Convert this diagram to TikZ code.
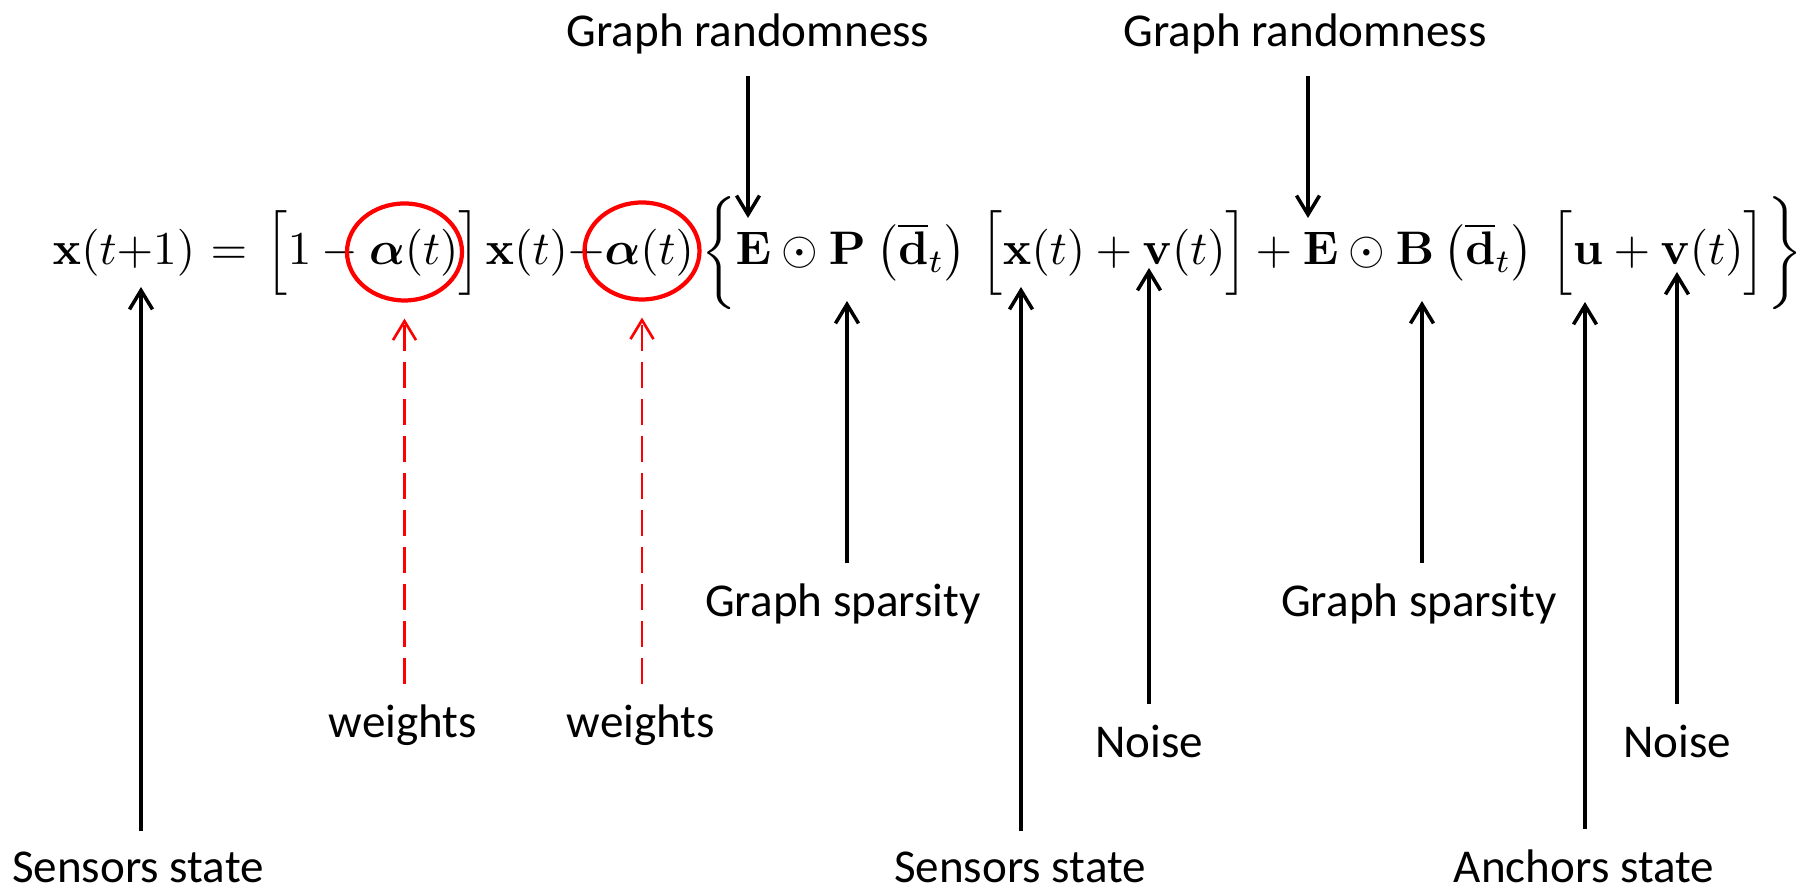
\documentclass[tikz,border=0pt]{standalone}
\usepackage{amsmath,amssymb,bm}
\usepackage{graphicx}
\usepackage[no-math]{fontspec}
\newfontfamily\calibri{Carlito}
\usepackage{tikz}
\usetikzlibrary{arrows.meta,positioning,shapes.geometric}

\newcommand{\lblfont}{\calibri\fontsize{13.4}{16}\selectfont}
\newcommand{\eqpart}[1]{\scalebox{1.34}{$#1$}}

\begin{document}
\begin{tikzpicture}[
        lbl/.style={font=\lblfont, inner sep=0pt, outer sep=6pt, anchor=base},
        eqp/.style={inner sep=0pt, anchor=base west},
        arr/.style={-{Straight Barb[length=1.9mm,width=2.3mm]}, line width=1pt},
        warr/.style={-{Straight Barb[length=1.9mm,width=2.3mm]}, red, line width=0.75pt, dash pattern=on 0.26cm off 0.11cm},
        ring/.style={ellipse, draw=red, line width=1.2pt, minimum width=1.15cm, minimum height=0.97cm, inner sep=0pt},
    ]
        \useasboundingbox (0,0) rectangle (18.06,8.90);

        % The equation, piece by piece on one baseline
        \node[eqp] (eqLhs) at (0.52,6.25) {\eqpart{\mathbf{x}(t{+}1)}};
        \node[eqp] (eqEq) at (2.10,6.25) {\eqpart{=}};
        \node[eqp] (eqWa) at (2.65,6.25) {\eqpart{\Bigl[1-\bm{\alpha}(t)\Bigr]}};
        \node[eqp] (eqMid) at (4.85,6.25) {\eqpart{\mathbf{x}(t){+}\bm{\alpha}(t)}};
        \node[eqp] (eqLb) at (7.01,6.25) {\eqpart{\biggl\{}};
        \node[eqp] (eqEP) at (7.35,6.25) {\eqpart{\mathbf{E}\odot\mathbf{P}}};
        \node[eqp] (eqPa) at (8.76,6.25) {\eqpart{\bigl(\overline{\mathbf{d}}_t\bigr)}};
        \node[eqp] (eqXv) at (9.80,6.25) {\eqpart{\Bigl[\mathbf{x}(t)+\mathbf{v}(t)\Bigr]}};
        \node[eqp] (eqEB) at (12.55,6.25) {\eqpart{+\mskip\medmuskip\mathbf{E}\odot\mathbf{B}}};
        \node[eqp] (eqBa) at (14.43,6.25) {\eqpart{\bigl(\overline{\mathbf{d}}_t\bigr)}};
        \node[eqp] (eqUv) at (15.50,6.25) {\eqpart{\Bigl[\mathbf{u}+\mathbf{v}(t)\Bigr]}};
        \node[eqp] (eqRb) at (17.67,6.25) {\eqpart{\biggr\}}};

        % Circled weights
        \node[ring] (ring1) at (4.045,6.38) {};
        \node[ring] (ring2) at (6.42,6.39) {};

        % Points in the equation that arrows reach
        \coordinate (grA) at (7.48,6.72);
        \coordinate (grB) at (13.08,6.72);
        \coordinate (ssA) at (1.41,6.03);
        \coordinate (ssB) at (10.21,6.03);
        \coordinate (anc) at (15.85,5.88);
        \coordinate (gsA) at (8.47,5.89);
        \coordinate (gsB) at (14.22,5.89);
        \coordinate (nzA) at (11.49,6.22);
        \coordinate (nzB) at (16.77,6.18);

        % Labels above
        \node[lbl] (randA) at (7.48,8.43) {Graph randomness};
        \node[lbl] (randB) at (13.05,8.43) {Graph randomness};

        % Labels below
        \node[lbl] (sparA) at (8.43,2.73) {Graph sparsity};
        \node[lbl] (sparB) at (14.19,2.73) {Graph sparsity};
        \node[lbl] (wtA) at (4.03,1.52) {weights};
        \node[lbl] (wtB) at (6.41,1.52) {weights};
        \node[lbl] (noiseA) at (11.49,1.32) {Noise};
        \node[lbl] (noiseB) at (16.77,1.32) {Noise};
        \node[lbl] (sensA) at (1.38,0.07) {Sensors state};
        \node[lbl] (sensB) at (10.20,0.07) {Sensors state};
        \node[lbl] (anchors) at (15.84,0.07) {Anchors state};

        % Arrows down
        \draw[arr] (randA.south -| grA) -- (grA);
        \draw[arr] (randB.south -| grB) -- (grB);

        % Arrows up
        \draw[arr] (sparA.north -| gsA) -- (gsA);
        \draw[arr] (sparB.north -| gsB) -- (gsB);
        \draw[arr] (noiseA.north -| nzA) -- (nzA);
        \draw[arr] (noiseB.north -| nzB) -- (nzB);
        \draw[arr] (sensA.north -| ssA) -- (ssA);
        \draw[arr] (sensB.north -| ssB) -- (ssB);
        \draw[arr] (anchors.north -| anc) -- (anc);

        % Dashed red arrows to the circles
        \draw[warr, shorten >=0.16cm] (wtA.north -| ring1.south) -- (ring1.south);
        \draw[warr, shorten >=0.16cm] (wtB.north -| ring2.south) -- (ring2.south);

    \end{tikzpicture}
\end{document}
